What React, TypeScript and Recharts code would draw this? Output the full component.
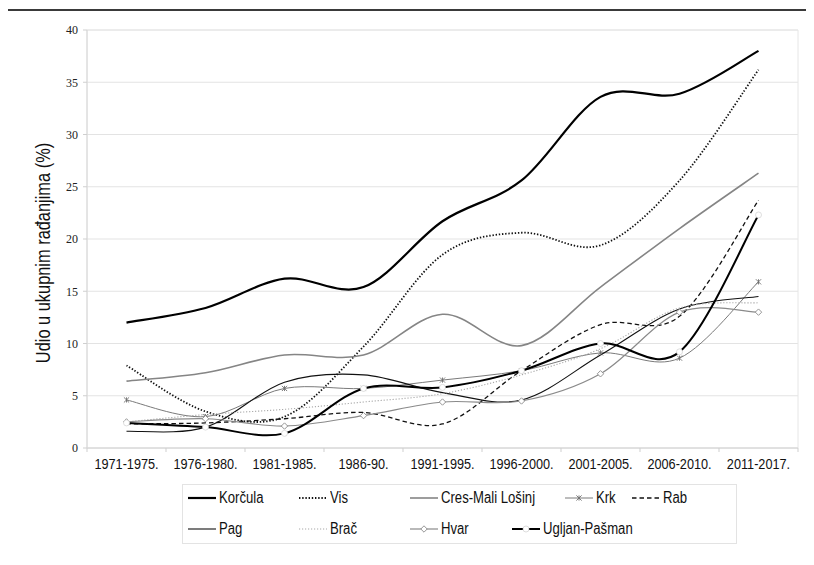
import React from 'react'
import { LineChart, Line, XAxis, YAxis, CartesianGrid, ReferenceArea } from 'recharts'

const categories = [
  '1971-1975.',
  '1976-1980.',
  '1981-1985.',
  '1986-90.',
  '1991-1995.',
  '1996-2000.',
  '2001-2005.',
  '2006-2010.',
  '2011-2017.',
]

const korcula = [12.0, 13.4, 16.2, 15.4, 21.7, 25.6, 33.6, 33.9, 38.0]
const vis = [7.9, 3.5, 3.0, 9.7, 18.5, 20.6, 19.4, 25.6, 36.2]
const cres = [6.4, 7.2, 8.9, 8.9, 12.8, 9.8, 15.4, 21.0, 26.3]
const krk = [4.6, 3.0, 5.7, 5.7, 6.5, 7.4, 9.1, 8.6, 15.9]
const rab = [2.3, 2.4, 2.8, 3.4, 2.3, 7.4, 11.8, 12.6, 23.7]
const pag = [1.6, 2.0, 6.3, 7.0, 5.3, 4.6, 8.9, 13.3, 14.5]
const brac = [2.5, 3.2, 3.7, 4.4, 5.2, 7.0, 9.5, 13.4, 13.9]
const hvar = [2.5, 2.8, 2.1, 3.1, 4.4, 4.5, 7.1, 13.0, 13.0]
const ugljan = [2.4, 2.0, 1.4, 5.7, 5.8, 7.4, 10.0, 9.2, 22.3]

const yTicks = [0, 5, 10, 15, 20, 25, 30, 35, 40]
const yLabel = 'Udio u ukupnim rađanjima (%)'

// no narrow face installed, so Liberation Sans is squeezed horizontally
const SANS = '"Liberation Sans", Arial, sans-serif'
const SERIF = '"Liberation Serif", "Times New Roman", serif'
const SQUEEZE = 0.82

const PLOT_LEFT = 87
const PLOT_W = 711
const BAND = PLOT_W / categories.length

const data = categories.map((c, i) => ({
  x: i,
  korcula: korcula[i],
  vis: vis[i],
  cres: cres[i],
  krk: krk[i],
  rab: rab[i],
  pag: pag[i],
  brac: brac[i],
  hvar: hvar[i],
  ugljan: ugljan[i],
}))

// Excel-like smoothed line (Catmull-Rom through every point)
const smooth = (context: any) => {
  let pts: number[][] = []
  return {
    areaStart() {},
    areaEnd() {},
    lineStart() {
      pts = []
    },
    point(x: number, y: number) {
      pts.push([+x, +y])
    },
    lineEnd() {
      if (!pts.length) return
      context.moveTo(pts[0][0], pts[0][1])
      for (let i = 0; i < pts.length - 1; i++) {
        const p0 = pts[i - 1] || pts[i]
        const p1 = pts[i]
        const p2 = pts[i + 1]
        const p3 = pts[i + 2] || p2
        context.bezierCurveTo(
          p1[0] + (p2[0] - p0[0]) / 6,
          p1[1] + (p2[1] - p0[1]) / 6,
          p2[0] - (p3[0] - p1[0]) / 6,
          p2[1] - (p3[1] - p1[1]) / 6,
          p2[0],
          p2[1]
        )
      }
    },
  }
}

const StarDot = (props: any) => {
  const { cx, cy, index } = props
  if (cx == null || cy == null) return <g key={index} />
  const s = 2.6
  return (
    <g key={index} stroke="#6f6f6f" strokeWidth={0.9}>
      <line x1={cx - s} y1={cy - s} x2={cx + s} y2={cy + s} />
      <line x1={cx - s} y1={cy + s} x2={cx + s} y2={cy - s} />
      <line x1={cx} y1={cy - s} x2={cx} y2={cy + s} />
    </g>
  )
}

const DiamondDot = (props: any) => {
  const { cx, cy, index } = props
  if (cx == null || cy == null) return <g key={index} />
  const s = 3.2
  return (
    <path
      key={index}
      d={`M${cx},${cy - s}L${cx + s},${cy}L${cx},${cy + s}L${cx - s},${cy}Z`}
      fill="#fff"
      stroke="#8a8a8a"
      strokeWidth={0.9}
    />
  )
}

const RingDot = (props: any) => {
  const { cx, cy, index } = props
  if (cx == null || cy == null) return <g key={index} />
  return <circle key={index} cx={cx} cy={cy} r={3} fill="#fff" stroke="#d0d0d0" strokeWidth={0.7} />
}

type Series = {
  key: string
  name: string
  color: string
  width: number
  dash?: string
  dot?: any
}

const series: Series[] = [
  { key: 'korcula', name: 'Korčula', color: '#000', width: 2.2 },
  { key: 'vis', name: 'Vis', color: '#111', width: 1.8, dash: '1.4 1.8' },
  { key: 'cres', name: 'Cres-Mali Lošinj', color: '#858585', width: 1.6 },
  { key: 'krk', name: 'Krk', color: '#7a7a7a', width: 1, dot: StarDot },
  { key: 'rab', name: 'Rab', color: '#111', width: 1.3, dash: '4.5 3' },
  { key: 'pag', name: 'Pag', color: '#111', width: 1.1 },
  { key: 'brac', name: 'Brač', color: '#a8a8a8', width: 1.1, dash: '1.2 1.8' },
  { key: 'hvar', name: 'Hvar', color: '#8a8a8a', width: 1.2, dot: DiamondDot },
  { key: 'ugljan', name: 'Ugljan-Pašman', color: '#000', width: 2, dot: RingDot },
]

// legend slots as laid out in the original
const legendSlots = [
  { left: 188, top: 498 },
  { left: 299, top: 498 },
  { left: 410, top: 498 },
  { left: 565, top: 498 },
  { left: 632, top: 498 },
  { left: 188, top: 529 },
  { left: 299, top: 529 },
  { left: 410, top: 529 },
  { left: 512, top: 529 },
]

const XTick = (props: any) => {
  const { x, y, payload, index } = props
  const axisY = y - 10
  const half = BAND / 2
  return (
    <g>
      <line x1={x - half} y1={axisY} x2={x - half} y2={axisY + 4} stroke="#cfcfcf" />
      {index === categories.length - 1 && (
        <line x1={x + half} y1={axisY} x2={x + half} y2={axisY + 4} stroke="#cfcfcf" />
      )}
      <text
        transform={`translate(${x} ${y}) scale(${SQUEEZE} 1)`}
        dy="0.71em"
        textAnchor="middle"
        fill="#111"
        fontSize={15.5}
        fontFamily={SANS}
      >
        {categories[payload.value]}
      </text>
    </g>
  )
}

const LegendSwatch = ({ s }: { s: Series }) => {
  const Dot = s.dot
  return (
    <svg width={28} height={10} style={{ display: 'block' }}>
      <line
        x1={0}
        y1={5}
        x2={28}
        y2={5}
        stroke={s.color}
        strokeWidth={s.width}
        strokeDasharray={s.dash}
      />
      {Dot && <Dot cx={14} cy={5} index={0} />}
    </svg>
  )
}

export default function App() {
  return (
    <div
      style={{
        position: 'relative',
        width: 814,
        height: 565,
        margin: -8,
        overflow: 'hidden',
        background: '#fff',
        fontFamily: SANS,
      }}
    >
      <div
        style={{
          position: 'absolute',
          left: 6,
          top: 9,
          right: -4,
          bottom: -4,
          borderTop: '2px solid #3a3a3a',
          borderLeft: '2px solid #808080',
        }}
      />
      <div style={{ position: 'absolute', left: 0, top: 0 }}>
        <LineChart
          width={814}
          height={480}
          data={data}
          margin={{ top: 30, right: 814 - PLOT_LEFT - PLOT_W, bottom: 0, left: 0 }}
        >
          <CartesianGrid vertical={false} stroke="#e3e3e3" />
          <ReferenceArea
            x1={-0.5}
            x2={categories.length - 0.5}
            y1={0}
            y2={40}
            fill="none"
            stroke="#e6e6e6"
          />
          <XAxis
            dataKey="x"
            type="number"
            domain={[-0.5, categories.length - 0.5]}
            ticks={categories.map((_, i) => i)}
            interval={0}
            height={32}
            axisLine={{ stroke: '#d6d6d6' }}
            tickLine={false}
            tickSize={5}
            tickMargin={5}
            tick={<XTick />}
          />
          <YAxis
            domain={[0, 40]}
            ticks={yTicks}
            width={PLOT_LEFT}
            axisLine={{ stroke: '#d6d6d6' }}
            tickLine={{ stroke: '#cfcfcf' }}
            tickSize={4}
            tickMargin={5}
            tick={{ fill: '#222', fontSize: 12, fontFamily: SERIF }}
            label={{
              content: (p: any) => {
                const vb = p.viewBox || { x: 0, y: 30, height: 418 }
                const cx = 43
                const cy = vb.y + vb.height / 2 + 14
                return (
                  <text
                    transform={`translate(${cx} ${cy}) rotate(-90) scale(${SQUEEZE} 1)`}
                    textAnchor="middle"
                    dominantBaseline="central"
                    fontSize={20}
                    fontFamily={SANS}
                    fill="#111"
                  >
                    {yLabel}
                  </text>
                )
              },
            }}
          />
          {series.map((s) => (
            <Line
              key={s.key}
              dataKey={s.key}
              name={s.name}
              type={smooth as any}
              stroke={s.color}
              strokeWidth={s.width}
              strokeDasharray={s.dash}
              dot={s.dot ? s.dot : false}
              activeDot={false}
              isAnimationActive={false}
            />
          ))}
        </LineChart>
      </div>
      <div
        style={{
          position: 'absolute',
          left: 182,
          top: 484,
          width: 555,
          height: 60,
          border: '1px solid #e3e3e3',
          boxSizing: 'border-box',
        }}
      />
      {series.map((s, i) => (
        <div
          key={s.key}
          style={{
            position: 'absolute',
            left: legendSlots[i].left,
            top: legendSlots[i].top - 10,
            height: 20,
            display: 'flex',
            alignItems: 'center',
            fontSize: 16,
            color: '#111',
            whiteSpace: 'nowrap',
          }}
        >
          <LegendSwatch s={s} />
          <span
            style={{
              marginLeft: 3,
              display: 'inline-block',
              transform: `scaleX(${SQUEEZE})`,
              transformOrigin: 'left center',
            }}
          >
            {s.name}
          </span>
        </div>
      ))}
    </div>
  )
}
